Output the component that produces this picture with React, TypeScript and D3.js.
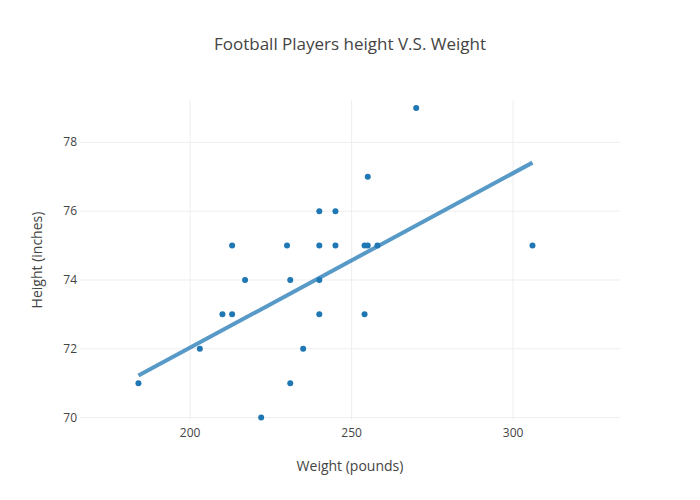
import React from "react";
import * as d3 from "d3";

const weights = [184, 203, 210, 213, 213, 217, 222, 230, 231, 231, 235, 240, 240, 240, 240, 245, 245, 270, 255, 254, 255, 258, 254, 306];
const heights = [71, 72, 73, 73, 75, 74, 70, 75, 74, 71, 72, 76, 75, 74, 73, 76, 75, 79, 77, 75, 75, 75, 73, 75];
const fitX = [184, 306];
const fitY = [71.22, 77.41];
const xTicks = [200, 250, 300];
const yTicks = [70, 72, 74, 76, 78];

const W = 700, H = 500;
const L = 80, R = 620, T = 100, B = 420;
const font = "'Open Sans', 'Noto Sans', sans-serif";

export default function App() {
  const x = d3.scaleLinear().domain([165.9, 333.1]).range([L, R]);
  const y = d3.scaleLinear().domain([69.93, 79.23]).range([B, T]);
  const line = d3.line<number>().x((d, i) => x(fitX[i])).y((d, i) => y(fitY[i]));
  return (
    <svg width={W} height={H} style={{ position: "absolute", left: 0, top: 0, background: "#fff" }} fontFamily={font}>
      {xTicks.map((t) => (
        <line key={"gx" + t} x1={x(t)} x2={x(t)} y1={T} y2={B} stroke="#eee" strokeWidth={1} />
      ))}
      {yTicks.map((t) => (
        <line key={"gy" + t} x1={L} x2={R} y1={y(t)} y2={y(t)} stroke="#eee" strokeWidth={1} />
      ))}
      <path d={line(fitY) || ""} fill="none" stroke="#1f77b4" strokeOpacity={0.75} strokeWidth={4} />
      {weights.map((w, i) => (
        <circle key={i} cx={x(w)} cy={y(heights[i])} r={3} fill="#1f77b4" />
      ))}
      {xTicks.map((t) => (
        <text key={"tx" + t} x={x(t)} y={B + 17} textAnchor="middle" fontSize={12} fill="#444">{t}</text>
      ))}
      {yTicks.map((t) => (
        <text key={"ty" + t} x={L - 3} y={y(t) + 4} textAnchor="end" fontSize={12} fill="#444">{t}</text>
      ))}
      <text x={350} y={50} textAnchor="middle" fontSize={17} fill="#444">Football Players height V.S. Weight</text>
      <text x={350} y={471} textAnchor="middle" fontSize={14} fill="#444">Weight (pounds)</text>
      <text transform={`translate(42,260) rotate(-90)`} textAnchor="middle" fontSize={14} fill="#444">Height (inches)</text>
    </svg>
  );
}
